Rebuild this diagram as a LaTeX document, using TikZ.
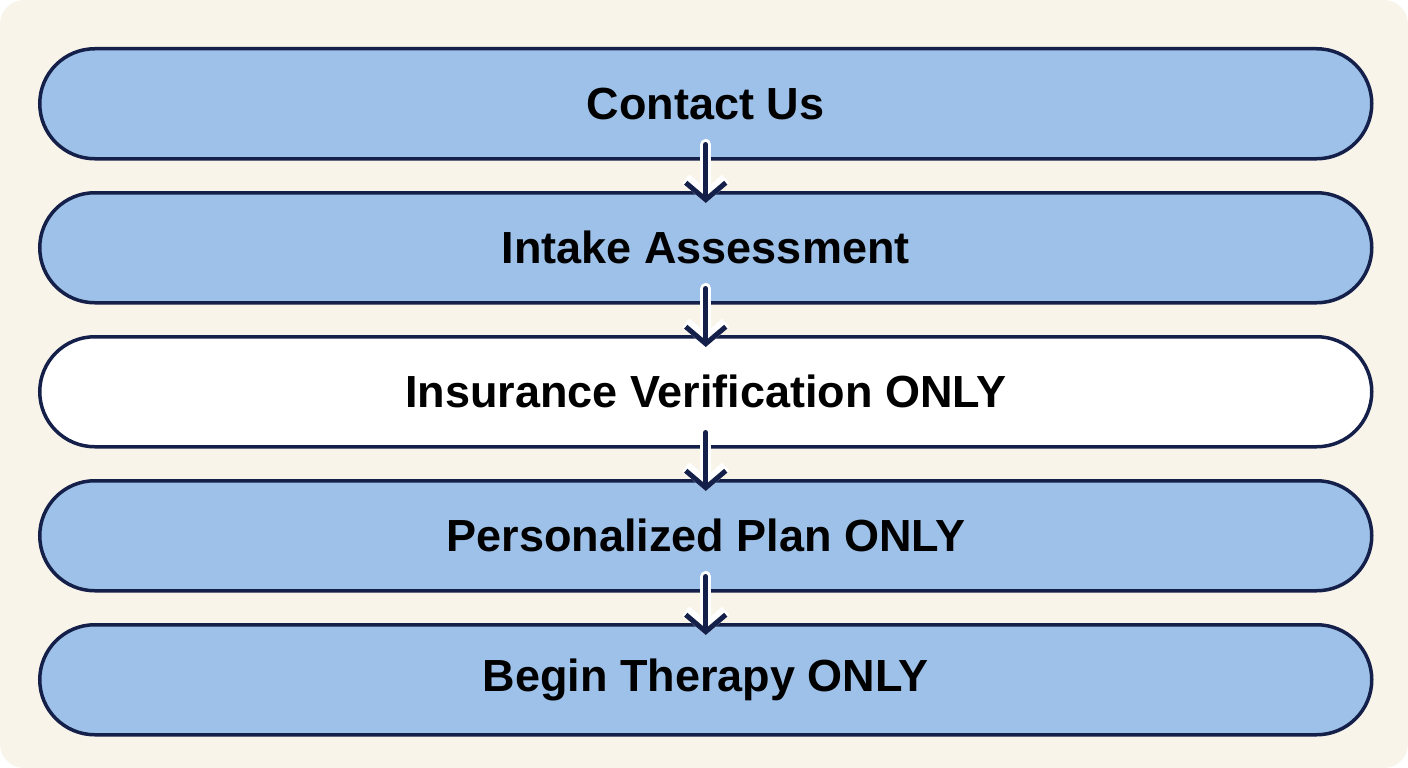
\documentclass[tikz,border=0pt]{standalone}
\usepackage{fontspec}
\setmainfont{Liberation Sans}
\usetikzlibrary{arrows.meta}
\definecolor{bg}{HTML}{F8F4EA}
\definecolor{fillb}{HTML}{9DC1E8}
\definecolor{navy}{HTML}{14204A}
\tikzset{x=1pt,y=-1pt,
 stepbox/.style={draw=navy,line width=3.5pt,rounded corners=55pt,minimum width=1332pt,minimum height=110pt,inner sep=0pt,font=\fontsize{45}{52}\selectfont\bfseries,text=black,anchor=north west},
 flow/.style={line width=5pt,draw=navy,-{Straight Barb[length=17pt,width=40pt,line width=5pt]},line cap=round},
 halo/.style={line width=11pt,draw=white,-{Straight Barb[length=17pt,width=40pt,line width=11pt]},line cap=round}}
\begin{document}
\begin{tikzpicture}
\fill[bg,rounded corners=24pt] (0,0) rectangle (1408,768);
\useasboundingbox (0,0) rectangle (1408,768);
\node[stepbox,fill=fillb] (a) at (38,47) {Contact Us};
\node[stepbox,fill=fillb] (b) at (38,191) {Intake Assessment};
\node[stepbox,fill=white] (c) at (38,335) {Insurance Verification ONLY};
\node[stepbox,fill=fillb] (d) at (38,479) {Personalized Plan ONLY};
\node[stepbox,fill=fillb] (e) at (38,623) {Begin Therapy ONLY};
\foreach \u/\v in {a/b,b/c,c/d,d/e}{
 \draw[halo] ([yshift=16pt]\u.south) -- ([yshift=-12pt]\v.north);
 \draw[flow] ([yshift=16pt]\u.south) -- ([yshift=-12pt]\v.north);
}
\end{tikzpicture}
\end{document}
